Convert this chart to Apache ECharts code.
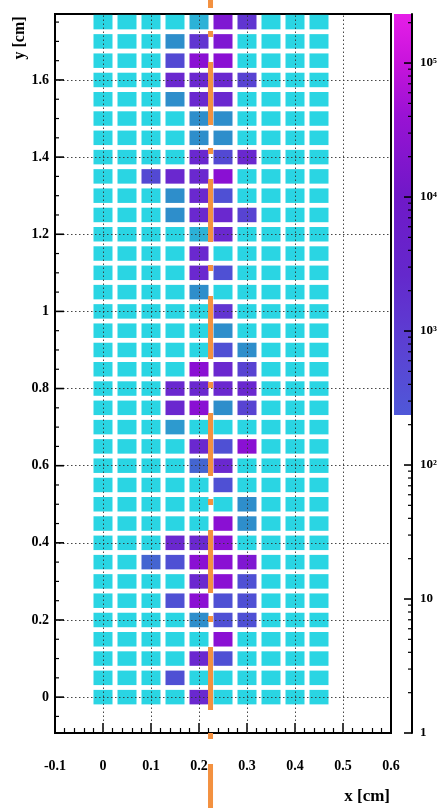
<!DOCTYPE html>
<html>
<head>
<meta charset="utf-8">
<script src="https://cdn.jsdelivr.net/npm/echarts@6/dist/echarts.min.js"></script>
<style>
html,body{margin:0;padding:0;background:#fff;}
#chart{width:443px;height:808px;}
</style>
</head>
<body>
<div id="chart"></div>
<script>
// ---------- data ----------
var xCenters = [0, 0.05, 0.1, 0.15, 0.2, 0.25, 0.3, 0.35, 0.4, 0.45];
var yCenters = [0, 0.05, 0.1, 0.15, 0.2, 0.25, 0.3, 0.35, 0.4, 0.45, 0.5, 0.55,
                0.6, 0.65, 0.7, 0.75, 0.8, 0.85, 0.9, 0.95, 1.0, 1.05, 1.1, 1.15,
                1.2, 1.25, 1.3, 1.35, 1.4, 1.45, 1.5, 1.55, 1.6, 1.65, 1.7, 1.75];
// log10(counts) per cell, one row per yCenters entry, columns follow xCenters
var logCounts = [
  [2,2,2,2,3.8,2,2,2,2,2],        // y 0.00
  [2,2,2,3.2,2,2,2,2,2,2],        // y 0.05
  [2,2,2,2,3.8,3.2,2,2,2,2],      // y 0.10
  [2,2,2,2,2,4.4,2,2,2,2],        // y 0.15
  [2,2,2,2,2.6,3.2,3.2,2,2,2],    // y 0.20
  [2,2,2,3.2,4.4,3.2,3.2,2,2,2],  // y 0.25
  [2,2,2,2,3.8,4.4,3.2,2,2,2],    // y 0.30
  [2,2,3.0,3.2,4.4,4.4,4.2,2,2,2],// y 0.35
  [2,2,2,3.8,3.8,4.4,2,2,2,2],    // y 0.40
  [2,2,2,2,2,4.4,2.6,2,2,2],      // y 0.45
  [2,2,2,2,2,2,2.6,2,2,2],        // y 0.50
  [2,2,2,2,2,3.2,2,2,2,2],        // y 0.55
  [2,2,2,2,3.0,3.8,2,2,2,2],      // y 0.60
  [2,2,2,2,3.8,3.2,4.4,2,2,2],    // y 0.65
  [2,2,2,2.5,2,2,2,2,2,2],        // y 0.70
  [2,2,2,3.8,4.4,2.6,3.4,2,2,2],  // y 0.75
  [2,2,2,3.8,3.8,3.8,3.8,2,2,2],  // y 0.80
  [2,2,2,2,4.4,3.8,3.4,2,2,2],    // y 0.85
  [2,2,2,2,2,3.2,2.6,2,2,2],      // y 0.90
  [2,2,2,2,2,2.6,2,2,2,2],        // y 0.95
  [2,2,2,2,2,3.6,2,2,2,2],        // y 1.00
  [2,2,2,2,2.6,2,2,2,2,2],        // y 1.05
  [2,2,2,2,3.8,3.2,2,2,2,2],      // y 1.10
  [2,2,2,2,3.8,2,2,2,2,2],        // y 1.15
  [2,2,2,2,2.3,3.8,2,2,2,2],      // y 1.20
  [2,2,2,2.6,3.8,3.8,3.4,2,2,2],  // y 1.25
  [2,2,2,2.6,3.8,3.2,2,2,2,2],    // y 1.30
  [2,2,3.3,3.8,3.8,4.4,2,2,2,2],  // y 1.35
  [2,2,2,2,3.8,3.3,3.8,2,2,2],    // y 1.40
  [2,2,2,2,2.6,2.6,2,2,2,2],      // y 1.45
  [2,2,2,2,2.6,2.6,2,2,2,2],      // y 1.50
  [2,2,2,2.6,3.8,3.8,2,2,2,2],    // y 1.55
  [2,2,2,3.8,3.8,3.8,3.4,2,2,2],  // y 1.60
  [2,2,2,3.3,4.4,4.4,2,2,2,2],    // y 1.65
  [2,2,2,2.6,3.6,4.2,2,2,2,2],    // y 1.70
  [2,2,2,2,2.3,4.2,3.6,2,2,2]     // y 1.75
];
var xGridValues = [0, 0.1, 0.2, 0.3, 0.4, 0.5];
var yTickValues = [0, 0.2, 0.4, 0.6, 0.8, 1.0, 1.2, 1.4, 1.6];
var yMinorValues = [-0.05,0.05,0.1,0.15,0.25,0.3,0.35,0.45,0.5,0.55,0.65,0.7,0.75,
                    0.85,0.9,0.95,1.05,1.1,1.15,1.25,1.3,1.35,1.45,1.5,1.55,1.65,1.7,1.75];
// orange track line (x position, y endpoints)
var trackX = 0.224;
var trackY = [1.95, -0.35];
// colour bar: log10 range of the filled palette
var paletteRange = [2.373, 5.366];
var paletteTicks = [0, 1, 2, 3, 4, 5];
var paletteTickLabels = ['1', '10', '10\u00B2', '10\u00B3', '10\u2074', '10\u2075'];
var paletteMinorMultipliers = [2, 3, 4, 5, 6, 7, 8, 9];

// ---------- build ----------
var cellData = [];
for (var i = 0; i < yCenters.length; i++) {
  for (var j = 0; j < xCenters.length; j++) {
    cellData.push([xCenters[j], yCenters[i], logCounts[i][j]]);
  }
}
var paletteMinor = [];
for (var k = 0; k < 6; k++) {
  paletteMinorMultipliers.forEach(function (m) {
    var v = Math.log10(m) + k;
    if (v < paletteRange[1]) paletteMinor.push(v);
  });
}
// tick mark items: [isMajor, value]
var yTickData = yTickValues.map(function (v) { return [1, v]; })
  .concat(yMinorValues.map(function (v) { return [0, v]; }));
var barTickData = paletteTicks.map(function (v) { return [1, v]; })
  .concat(paletteMinor.map(function (v) { return [0, v]; }));

var FONT = '"Liberation Serif", "DejaVu Serif", serif';
var halfW = 0.0198, halfH = 0.0188;
var X_MIN = -0.1;

function tickRenderer(edgeX, dir, majorLen, minorLen) {
  return function (params, api) {
    var major = api.value(0) === 1;
    var p = api.coord([edgeX, api.value(1)]);
    var len = major ? majorLen : minorLen;
    return {type: 'line',
            shape: {x1: p[0], y1: p[1], x2: p[0] + dir * len, y2: p[1]},
            style: {stroke: '#000', lineWidth: major ? 1.6 : 1.2}};
  };
}

var chart = echarts.init(document.getElementById('chart'), null, {renderer: 'canvas'});
chart.setOption({
  animation: false,
  backgroundColor: '#fff',
  grid: [
    {left: 55, right: 52, top: 14, bottom: 75, show: true, borderColor: '#000', borderWidth: 2, backgroundColor: 'transparent'},
    {left: 394, width: 18, top: 14, bottom: 75}
  ],
  xAxis: [
    {
      gridIndex: 0, type: 'value', min: X_MIN, max: 0.6, interval: 0.1,
      axisLine: {show: true, onZero: false, lineStyle: {color: '#000', width: 2}},
      axisTick: {show: true, inside: true, length: 10, lineStyle: {color: '#000', width: 1.5}},
      minorTick: {show: true, splitNumber: 5, length: 5, lineStyle: {color: '#000', width: 1.2}},
      splitLine: {show: false},
      axisLabel: {show: true, showMinLabel: true, showMaxLabel: true, margin: 26, color: '#000',
                  fontFamily: FONT, fontWeight: 'bold', fontSize: 14}
    },
    {gridIndex: 1, type: 'value', min: 1, max: 2, show: false}
  ],
  yAxis: [
    {
      gridIndex: 0, type: 'value', min: -0.093, max: 1.771, position: 'left',
      axisLine: {show: true, onZero: false, lineStyle: {color: '#000', width: 2}},
      axisTick: {show: false},
      splitLine: {show: false},
      axisLabel: {show: true, customValues: yTickValues, margin: 6, color: '#000',
                  fontFamily: FONT, fontWeight: 'bold', fontSize: 14}
    },
    {
      gridIndex: 1, type: 'value', min: 0, max: paletteRange[1], position: 'right', z: 20,
      axisLine: {show: true, onZero: false, lineStyle: {color: '#000', width: 2}},
      axisTick: {show: false},
      splitLine: {show: false},
      axisLabel: {show: true, customValues: paletteTicks, margin: 8, color: '#000',
                  fontFamily: FONT, fontWeight: 'bold', fontSize: 13,
                  formatter: function (v) { return paletteTickLabels[paletteTicks.indexOf(Math.round(v))]; }}
    }
  ],
  visualMap: {
    show: false, type: 'continuous', seriesIndex: 0, dimension: 2, min: 2.0, max: 4.4,
    inRange: {color: ['#2ad5e3', '#2e8ecb', '#4f50d4', '#6a28cf', '#8a10d3']}
  },
  graphic: [
    {type: 'text', x: 20, y: 38, rotation: Math.PI / 2, z: 50,
     style: {text: 'y [cm]', fill: '#000', font: 'bold 16px ' + FONT, align: 'center', verticalAlign: 'middle'}},
    {type: 'text', x: 390, y: 797, z: 50,
     style: {text: 'x [cm]', fill: '#000', font: 'bold 17px ' + FONT, align: 'right', verticalAlign: 'middle'}}
  ],
  series: [
    {
      type: 'custom', xAxisIndex: 0, yAxisIndex: 0, z: 2, clip: true,
      data: cellData,
      renderItem: function (params, api) {
        var x = api.value(0), y = api.value(1);
        var p0 = api.coord([x - halfW, y + halfH]);
        var p1 = api.coord([x + halfW, y - halfH]);
        return {type: 'rect', shape: {x: p0[0], y: p0[1], width: p1[0] - p0[0], height: p1[1] - p0[1]},
                style: {fill: api.visual('color')}};
      }
    },
    {
      // dotted grid lines
      type: 'line', xAxisIndex: 0, yAxisIndex: 0, z: 5, silent: true,
      data: [[xGridValues[0], yTickValues[0]]], showSymbol: false, symbol: 'none',
      lineStyle: {width: 0},
      markLine: {
        silent: true, symbol: 'none', label: {show: false},
        lineStyle: {color: '#333', width: 1, type: [1.5, 2.5], opacity: 0.9},
        data: xGridValues.map(function (v) { return {xAxis: v}; })
          .concat(yTickValues.map(function (v) { return {yAxis: v}; }))
      }
    },
    {
      // y-axis tick marks (major + minor), pointing into the frame
      type: 'custom', xAxisIndex: 0, yAxisIndex: 0, z: 20, silent: true,
      data: yTickData,
      renderItem: tickRenderer(X_MIN, 1, 9, 4)
    },
    {
      type: 'line', xAxisIndex: 0, yAxisIndex: 0, z: 10, clip: false, silent: true,
      symbol: 'none', showSymbol: false,
      data: [[trackX, trackY[0]], [trackX, trackY[1]]],
      lineStyle: {color: '#f39140', width: 5, type: [63, 23, 6, 25], cap: 'butt'}
    },
    {
      type: 'custom', xAxisIndex: 1, yAxisIndex: 1, z: 1, silent: true,
      data: [[1, paletteRange[0], paletteRange[1]]],
      renderItem: function (params, api) {
        var pTop = api.coord([1, api.value(2)]);
        var pBot = api.coord([2, api.value(1)]);
        return {type: 'rect',
                shape: {x: pTop[0], y: pTop[1], width: pBot[0] - pTop[0], height: pBot[1] - pTop[1]},
                style: {fill: new echarts.graphic.LinearGradient(0, 0, 0, 1, [
                  {offset: 0, color: '#e61ee8'},
                  {offset: 0.12, color: '#c814dc'},
                  {offset: 0.25, color: '#9a12d4'},
                  {offset: 0.45, color: '#7018c8'},
                  {offset: 0.65, color: '#6428cc'},
                  {offset: 0.85, color: '#5a44d4'},
                  {offset: 1, color: '#4f58d8'}
                ])}};
      }
    },
    {
      // colour-bar tick marks (decades + log minor), pointing left from the bar axis
      type: 'custom', xAxisIndex: 1, yAxisIndex: 1, z: 20, silent: true,
      data: barTickData,
      renderItem: tickRenderer(2, -1, 8, 4)
    }
  ]
});
</script>
</body>
</html>
